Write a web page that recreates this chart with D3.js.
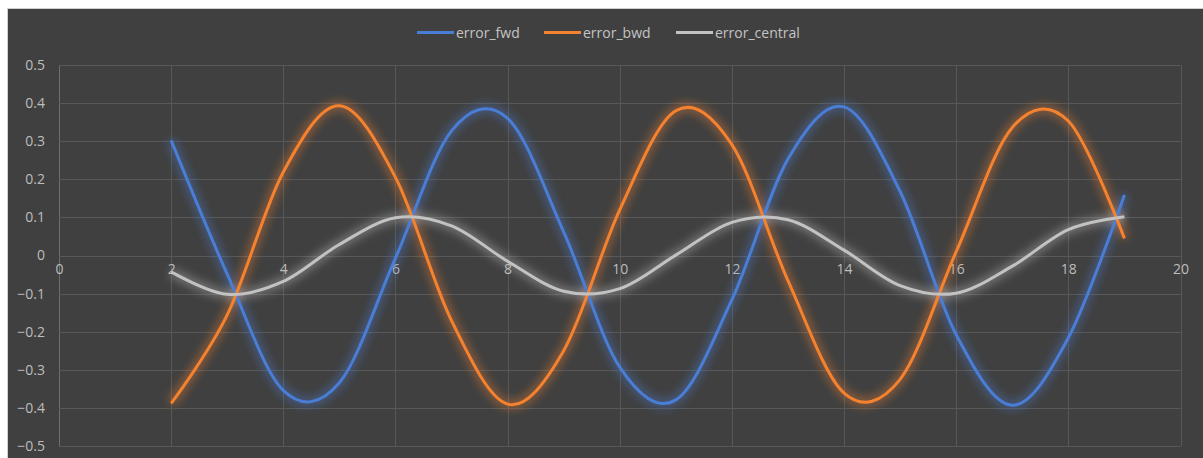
<!DOCTYPE html>
<html>
<head>
<meta charset="utf-8">
<script src="https://cdn.jsdelivr.net/npm/d3@7/dist/d3.min.js"></script>
<style>
  html, body { margin: 0; padding: 0; background: #ffffff; }
  svg { display: block; }
  text { font-family: "Open Sans", "Noto Sans", sans-serif; }
</style>
</head>
<body>
<script>
// Step positions along the x axis
const xs = [2, 3, 4, 5, 6, 7, 8, 9, 10, 11, 12, 13, 14, 15, 16, 17, 18, 19];

// Error of each finite-difference scheme at those positions
const errorFwd = [0.302, -0.049, -0.354, -0.334, -0.007, 0.327, 0.360, 0.062, -0.293, -0.379,
                  -0.116, 0.253, 0.390, 0.168, -0.208, -0.393, -0.216, 0.159];
const errorBwd = [-0.388, -0.156, 0.219, 0.393, 0.205, -0.171, -0.390, -0.250, 0.120, 0.380,
                  0.291, -0.066, -0.361, -0.325, 0.010, 0.336, 0.353, 0.045];
const errorCentral = [-0.043, -0.102, -0.068, 0.029, 0.099, 0.078, -0.015, -0.094, -0.087, 0.001,
                      0.087, 0.094, 0.014, -0.079, -0.099, -0.028, 0.068, 0.102];

const seriesNames = ["error_fwd", "error_bwd", "error_central"];
const seriesColors = ["#4a7dd6", "#f5822e", "#c2c2c2"];
const xTicks = [0, 2, 4, 6, 8, 10, 12, 14, 16, 18, 20];
const yTicks = [0.5, 0.4, 0.3, 0.2, 0.1, 0, -0.1, -0.2, -0.3, -0.4, -0.5];

const W = 1203, H = 458;
const svg = d3.select("body").append("svg").attr("width", W).attr("height", H);

// Chart frame
svg.append("rect").attr("x", 7.5).attr("y", 8.5).attr("width", W).attr("height", H)
  .attr("fill", "#404040").attr("stroke", "#d0d0d0").attr("stroke-width", 1);

const plot = { left: 59, right: 1180.5, top: 65, bottom: 446 };
const x = d3.scaleLinear().domain([0, 20]).range([plot.left, plot.right]);
const y = d3.scaleLinear().domain([-0.5, 0.5]).range([plot.bottom, plot.top]);

// Soft glow filter under each line
const defs = svg.append("defs");
seriesColors.forEach((c, i) => {
  const f = defs.append("filter").attr("id", "glow" + i)
    .attr("x", "-10%").attr("y", "-20%").attr("width", "120%").attr("height", "140%");
  f.append("feGaussianBlur").attr("stdDeviation", 4);
});

// Gridlines
const grid = svg.append("g");
grid.selectAll(".vg").data(xTicks).join("line")
  .attr("x1", d => Math.round(x(d)) + 0.5).attr("x2", d => Math.round(x(d)) + 0.5)
  .attr("y1", plot.top).attr("y2", plot.bottom)
  .attr("stroke", d => d === 0 ? "#6e6e6e" : "#585858").attr("stroke-width", 1);
grid.selectAll(".hg").data(yTicks).join("line")
  .attr("x1", plot.left).attr("x2", plot.right)
  .attr("y1", d => Math.round(y(d)) + 0.5).attr("y2", d => Math.round(y(d)) + 0.5)
  .attr("stroke", "#585858").attr("stroke-width", 1);

// Y axis labels
const yAxis = d3.axisLeft(y).tickValues(yTicks).tickSize(0).tickPadding(14)
  .tickFormat(d => d === 0 ? "0" : d3.format(".1f")(d));
const gy = svg.append("g").attr("transform", `translate(${plot.left},0)`).call(yAxis);
gy.select(".domain").remove();
gy.selectAll("text").attr("fill", "#bdbdbd").style("font-size", "14px")
  .style("font-family", "'Open Sans', 'Noto Sans', sans-serif");

// X axis labels sit under the zero line
const xAxis = d3.axisBottom(x).tickValues(xTicks).tickSize(0).tickPadding(9)
  .tickFormat(d3.format("d"));
const gx = svg.append("g").attr("transform", `translate(0,${y(0)})`).call(xAxis);
gx.select(".domain").remove();
gx.selectAll("text").attr("fill", "#bdbdbd").style("font-size", "14px")
  .style("font-family", "'Open Sans', 'Noto Sans', sans-serif");

// Series lines (glow first, then the crisp stroke on top)
const seriesValues = [errorFwd, errorBwd, errorCentral];
const line = d3.line().x(d => x(d[0])).y(d => y(d[1])).curve(d3.curveCardinal.tension(0));
const lines = svg.append("g");
seriesValues.forEach((vals, i) => {
  const pts = xs.map((xv, j) => [xv, vals[j]]);
  lines.append("path").attr("d", line(pts)).attr("fill", "none")
    .attr("stroke", seriesColors[i]).attr("stroke-width", 10).attr("stroke-opacity", 0.38)
    .attr("stroke-linejoin", "round").attr("filter", `url(#glow${i})`);
});
seriesValues.forEach((vals, i) => {
  const pts = xs.map((xv, j) => [xv, vals[j]]);
  lines.append("path").attr("d", line(pts)).attr("fill", "none")
    .attr("stroke", seriesColors[i]).attr("stroke-width", 3)
    .attr("stroke-linejoin", "round").attr("stroke-linecap", "butt");
});

// Legend
const legendX = [417, 544, 676];
const legend = svg.append("g");
seriesNames.forEach((name, i) => {
  legend.append("line").attr("x1", legendX[i]).attr("x2", legendX[i] + 37)
    .attr("y1", 32.5).attr("y2", 32.5).attr("stroke", seriesColors[i]).attr("stroke-width", 3);
  legend.append("text").attr("x", legendX[i] + 39).attr("y", 37.5)
    .attr("fill", "#c4c4c4").style("font-size", "14px").text(name);
});
</script>
</body>
</html>
